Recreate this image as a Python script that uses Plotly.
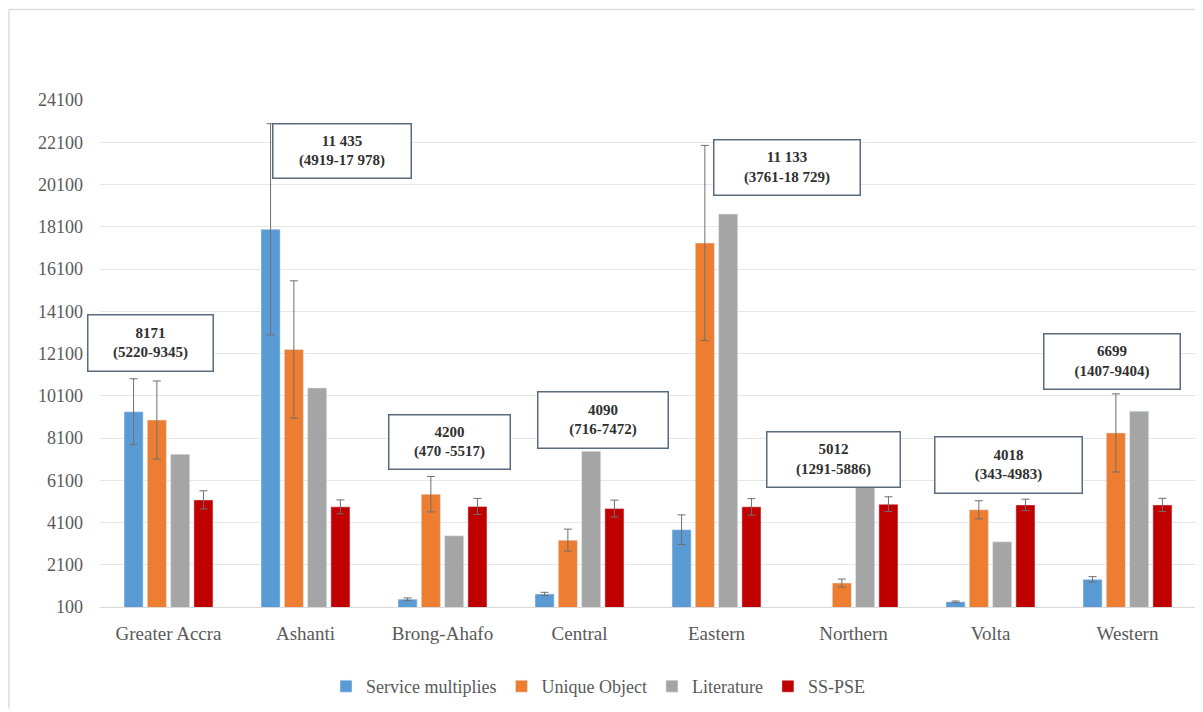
import plotly.graph_objects as go

categories = ["Greater Accra", "Ashanti", "Brong-Ahafo", "Central", "Eastern", "Northern", "Volta", "Western"]

service = [9345, 17978, 470, 716, 3761, None, 343, 1407]
service_err = [1560, 5000, 60, 80, 700, None, 40, 130]

unique_obj = [8950, 12290, 5440, 3265, 17330, 1234, 4700, 8340]
unique_err = [1850, 3250, 840, 520, 4620, 190, 430, 1850]

literature = [7330, 10470, 3470, 7472, 18700, 5850, 3185, 9370]

sspse = [5170, 4840, 4860, 4760, 4840, 4966, 4933, 4933]
sspse_err = [430, 330, 380, 400, 390, 350, 270, 310]

series_names = ["Service multiplies", "Unique Object", "Literature", "SS-PSE"]
colors = ["#5B9BD5", "#ED7D31", "#A5A5A5", "#C00000"]

box_main = ["8171", "11 435", "4200", "4090", "11 133", "5012", "4018", "6699"]
box_ci = ["(5220-9345)", "(4919-17 978)", "(470 -5517)", "(716-7472)",
          "(3761-18 729)", "(1291-5886)", "(343-4983)", "(1407-9404)"]

y_ticks = [100, 2100, 4100, 6100, 8100, 10100, 12100, 14100, 16100, 18100, 20100, 22100, 24100]

FONT = "Liberation Serif"
GRAY = "#595959"

fig = go.Figure()
err_style = dict(type="data", symmetric=True, color="#6F6F6F", thickness=1, width=4)

fig.add_trace(go.Bar(x=categories, y=service, name=series_names[0], marker_color=colors[0],
                     error_y=dict(array=service_err, **err_style)))
fig.add_trace(go.Bar(x=categories, y=unique_obj, name=series_names[1], marker_color=colors[1],
                     error_y=dict(array=unique_err, **err_style)))
fig.add_trace(go.Bar(x=categories, y=literature, name=series_names[2], marker_color=colors[2]))
fig.add_trace(go.Bar(x=categories, y=sspse, name=series_names[3], marker_color=colors[3],
                     error_y=dict(array=sspse_err, **err_style)))

# page has an 8px body offset; plot area in page pixels: x 100..1196, y 100..608
OFF = 8
PX0, PX1, PY0, PY1 = 100, 1196, 100, 610
W, H = 1203 - OFF, 712 - OFF
L, T = PX0 - OFF, PY0 - OFF
R = W - (PX1 - OFF)
B = H - (PY1 - OFF)
pw = PX1 - PX0
ph = PY1 - PY0


def px(xp):
    return (xp - PX0) / pw


def py(yp):
    return (PY1 - yp) / ph


# annotation boxes in page pixels: (center x, center y, width, height)
box_geom = [
    (150.5, 344, 127, 58),
    (342, 151, 140, 56),
    (449.5, 444, 123, 56),
    (603, 422, 132, 58),
    (787, 167.5, 148, 57),
    (833.5, 461.5, 135, 57),
    (1008.5, 467, 149, 58),
    (1112, 363.5, 138, 57),
]
annotations = []
for (cx, cy, bw, bh), m, ci in zip(box_geom, box_main, box_ci):
    annotations.append(dict(
        xref="paper", yref="paper", x=px(cx), y=py(cy),
        xanchor="center", yanchor="middle",
        text=f"<b>{m}</b><br><b>{ci}</b>",
        showarrow=False,
        font=dict(family=FONT, size=15, color="#303030"),
        bgcolor="white", bordercolor="#5A6B80", borderwidth=1.5, borderpad=0,
        width=bw - 3, height=bh - 3, align="center", valign="middle",
    ))

fig.update_layout(
    width=W, height=H,
    margin=dict(l=L, r=R, t=T, b=B),
    paper_bgcolor="white", plot_bgcolor="white",
    barmode="group", bargap=0.32, bargroupgap=0.18,
    font=dict(family=FONT, color=GRAY),
    annotations=annotations,
    legend=dict(orientation="h", x=px(598), xanchor="center",
                y=py(690), yanchor="middle",
                font=dict(family=FONT, size=18, color=GRAY),
                itemwidth=30, traceorder="normal"),
    shapes=[
        dict(type="line", xref="paper", yref="paper",
             x0=px(9), x1=px(1203), y0=py(9), y1=py(9),
             line=dict(color="#DDDDDD", width=1.5)),
        dict(type="line", xref="paper", yref="paper",
             x0=px(9), x1=px(9), y0=py(9), y1=py(712),
             line=dict(color="#DDDDDD", width=1.5)),
    ],
)
fig.update_xaxes(showgrid=False, showline=True, linecolor="#D9D9D9", ticks="",
                 ticklabelstandoff=9,
                 tickfont=dict(family=FONT, size=19, color=GRAY))
fig.update_yaxes(range=[100, 24100], tickvals=y_ticks, tickformat="d",
                 showgrid=True, gridcolor="#E6E6E6", zeroline=False, showline=False,
                 ticks="", ticklabelstandoff=16,
                 tickfont=dict(family=FONT, size=18, color=GRAY))

fig.write_html("out.html")
